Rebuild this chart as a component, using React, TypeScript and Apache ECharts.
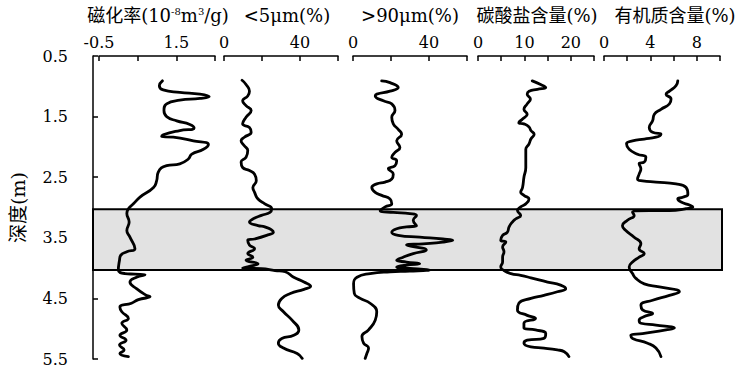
import React, { useEffect, useRef } from "react";
import * as echarts from "echarts";

// ---------- data (value, depth in m) ----------
const DEPTH_TICKS = [0.5, 1.5, 2.5, 3.5, 4.5, 5.5];
const HIGHLIGHT_DEPTH: [number, number] = [3.03, 4.03];

const magneticSusceptibility: [number, number][] = [
  [1.14, 0.91], [1.06, 0.99], [1.16, 1.06], [1.59, 1.1], [2.11, 1.13], [2.35, 1.17], [2.11, 1.2],
  [1.59, 1.23], [1.25, 1.29], [1.18, 1.4], [1.25, 1.5], [1.51, 1.57], [1.85, 1.63], [1.96, 1.69],
  [1.59, 1.73], [1.16, 1.8], [1.12, 1.83], [1.42, 1.84], [1.94, 1.9], [2.33, 1.96], [2.2, 2.04],
  [1.9, 2.12], [1.81, 2.2], [1.59, 2.28], [1.25, 2.31], [1.03, 2.42], [0.99, 2.56], [0.91, 2.67],
  [0.56, 2.83], [0.39, 2.94], [0.26, 3.02], [0.22, 3.1], [0.28, 3.24], [0.22, 3.38], [0.3, 3.49],
  [0.43, 3.68], [0.22, 3.73], [0.06, 3.79], [0.03, 3.87], [0.0, 4.03], [0.17, 4.09], [0.43, 4.1],
  [0.69, 4.11], [0.47, 4.15], [0.3, 4.23], [0.47, 4.34], [0.73, 4.45], [0.82, 4.47], [0.52, 4.52],
  [0.34, 4.58], [0.04, 4.64], [0.09, 4.72], [0.26, 4.83], [0.09, 4.91], [0.22, 5.02], [0.04, 5.11],
  [0.2, 5.19], [0.03, 5.27], [0.15, 5.35], [0.04, 5.41], [0.26, 5.46],
];

const fineFraction: [number, number][] = [
  [9.5, 0.9], [11.6, 0.97], [13.4, 1.08], [12.5, 1.16], [9.8, 1.24], [11.6, 1.32], [14.3, 1.4],
  [11.6, 1.51], [9.8, 1.62], [13.4, 1.68], [14.3, 1.76], [10.7, 1.84], [9.0, 1.9], [10.7, 1.98],
  [12.5, 2.06], [11.6, 2.17], [9.0, 2.25], [9.8, 2.34], [13.4, 2.39], [16.1, 2.45], [17.0, 2.56],
  [15.2, 2.67], [16.1, 2.75], [17.9, 2.86], [21.5, 2.94], [25.1, 3.02], [24.2, 3.08], [19.7, 3.13],
  [15.2, 3.19], [13.4, 3.24], [17.9, 3.3], [21.5, 3.32], [26.0, 3.41], [22.4, 3.46], [16.1, 3.52],
  [12.5, 3.54], [13.4, 3.62], [16.1, 3.68], [12.5, 3.76], [15.2, 3.82], [11.6, 3.87], [17.9, 3.93],
  [13.4, 3.97], [9.8, 4.0], [19.7, 4.01], [26.9, 4.04], [32.2, 4.06], [36.7, 4.15], [42.1, 4.23],
  [45.6, 4.3], [42.1, 4.35], [34.9, 4.42], [30.4, 4.5], [28.6, 4.61], [31.3, 4.72], [35.8, 4.86],
  [39.4, 5.02], [36.7, 5.11], [30.4, 5.16], [28.6, 5.24], [31.3, 5.32], [38.5, 5.41], [41.2, 5.49],
];

const coarseFraction: [number, number][] = [
  [15.1, 0.91], [19.5, 0.94], [23.8, 1.02], [19.5, 1.08], [12.5, 1.13], [11.7, 1.16], [16.0, 1.24],
  [20.4, 1.29], [22.1, 1.4], [20.4, 1.51], [21.2, 1.62], [23.8, 1.71], [25.6, 1.79], [23.0, 1.9],
  [24.7, 2.01], [22.1, 2.09], [20.4, 2.17], [23.0, 2.23], [22.1, 2.31], [18.6, 2.36], [21.2, 2.45],
  [20.4, 2.53], [16.9, 2.58], [12.5, 2.61], [9.9, 2.67], [11.7, 2.75], [15.1, 2.8], [19.5, 2.86],
  [20.4, 2.94], [16.9, 2.99], [14.3, 3.05], [21.2, 3.08], [29.9, 3.1], [33.4, 3.13], [31.7, 3.21],
  [33.4, 3.3], [28.2, 3.32], [23.0, 3.35], [20.4, 3.41], [23.8, 3.46], [35.1, 3.49], [47.3, 3.52],
  [52.5, 3.54], [47.3, 3.57], [36.9, 3.6], [28.2, 3.62], [38.6, 3.7], [31.7, 3.76], [26.4, 3.82],
  [23.0, 3.87], [28.2, 3.9], [35.1, 3.93], [28.2, 3.95], [23.0, 3.98], [31.7, 4.01], [40.4, 4.03],
  [29.9, 4.05], [19.5, 4.06], [9.0, 4.09], [2.1, 4.15], [0.3, 4.26], [0.7, 4.42], [3.8, 4.5],
  [9.0, 4.58], [12.5, 4.72], [11.7, 4.86], [8.2, 5.02], [4.7, 5.13], [5.6, 5.24], [8.2, 5.32],
  [7.3, 5.41], [6.4, 5.49],
];

const carbonate: [number, number][] = [
  [11.7, 0.91], [13.5, 0.97], [14.6, 1.02], [12.8, 1.05], [11.0, 1.08], [10.6, 1.13], [11.3, 1.21],
  [10.6, 1.29], [9.9, 1.38], [10.6, 1.46], [9.6, 1.54], [8.8, 1.6], [9.9, 1.62], [11.0, 1.67],
  [11.4, 1.73], [12.1, 1.79], [11.4, 1.87], [11.0, 1.95], [10.3, 2.04], [10.3, 2.17], [10.3, 2.34],
  [9.9, 2.5], [9.6, 2.67], [9.2, 2.75], [9.9, 2.8], [11.0, 2.86], [10.3, 2.94], [9.2, 2.99],
  [8.5, 3.05], [9.2, 3.13], [8.1, 3.19], [7.4, 3.24], [6.7, 3.32], [6.3, 3.41], [5.3, 3.46],
  [4.9, 3.54], [6.0, 3.57], [5.3, 3.65], [5.6, 3.73], [5.3, 3.82], [5.3, 3.9], [4.9, 3.98],
  [5.6, 4.04], [7.1, 4.09], [9.2, 4.12], [11.4, 4.16], [15.0, 4.23], [17.8, 4.28], [18.9, 4.34],
  [17.1, 4.39], [14.2, 4.45], [11.4, 4.5], [8.8, 4.58], [8.5, 4.69], [10.6, 4.78], [12.4, 4.83],
  [9.9, 4.91], [9.9, 4.99], [12.4, 5.02], [14.6, 5.08], [14.2, 5.16], [10.6, 5.19], [9.9, 5.24],
  [11.4, 5.3], [14.2, 5.32], [17.1, 5.35], [18.6, 5.38], [19.6, 5.46],
];

const organicMatter: [number, number][] = [
  [6.36, 0.91], [6.21, 0.99], [5.64, 1.08], [5.35, 1.13], [5.78, 1.21], [5.64, 1.29], [4.91, 1.38],
  [4.34, 1.46], [4.19, 1.57], [3.9, 1.68], [4.19, 1.76], [4.91, 1.79], [4.48, 1.84], [3.47, 1.87],
  [2.46, 1.9], [1.94, 1.95], [2.17, 2.04], [2.89, 2.12], [3.61, 2.17], [3.47, 2.25], [3.03, 2.28],
  [3.18, 2.36], [3.03, 2.45], [2.89, 2.53], [3.32, 2.56], [4.48, 2.58], [6.21, 2.61], [7.08, 2.67],
  [7.23, 2.78], [6.79, 2.83], [6.36, 2.86], [6.65, 2.91], [7.37, 2.96], [7.66, 2.99], [7.08, 3.02],
  [5.64, 3.05], [3.9, 3.05], [2.46, 3.08], [2.6, 3.13], [2.02, 3.21], [1.59, 3.3], [1.88, 3.38],
  [2.6, 3.49], [3.18, 3.6], [3.03, 3.68], [3.47, 3.76], [3.03, 3.82], [2.46, 3.9], [2.17, 3.98],
  [2.46, 4.09], [2.75, 4.17], [3.47, 4.26], [4.77, 4.31], [6.5, 4.39], [5.64, 4.45], [4.19, 4.53],
  [3.18, 4.61], [3.32, 4.69], [4.19, 4.75], [3.47, 4.8], [3.03, 4.86], [3.18, 4.91], [4.48, 4.94],
  [6.07, 4.99], [5.35, 5.02], [3.32, 5.08], [2.31, 5.11], [2.46, 5.16], [3.76, 5.24], [4.48, 5.32],
  [4.91, 5.46],
];

const magTicks = [-0.5, 0.5, 1.5, 2.5];
const magLabels = [-0.5, 1.5];
const grainTicks = [0, 20, 40, 60];
const grainLabels = [0, 40];
const carbTicks = [0, 5, 10, 15, 20, 25];
const carbLabels = [0, 10, 20];
const orgTicks = [0, 2, 4, 6, 8, 10];
const orgLabels = [0, 4, 8];

// ---------- layout ----------
const FONT = "'DejaVu Serif', 'Liberation Serif', 'Noto Sans CJK SC', serif";
const TOP = 56;
const HEIGHT = 303;

const panels = [
  { left: 99, width: 116, min: -0.5, max: 2.5, ticks: magTicks, labels: magLabels, data: magneticSusceptibility, titleX: 158 },
  { left: 224, width: 114, min: 0, max: 60, ticks: grainTicks, labels: grainLabels, data: fineFraction, titleX: 287 },
  { left: 353, width: 114, min: 0, max: 60, ticks: grainTicks, labels: grainLabels, data: coarseFraction, titleX: 410 },
  { left: 478, width: 116, min: 0, max: 25, ticks: carbTicks, labels: carbLabels, data: carbonate, titleX: 537 },
  { left: 604, width: 116, min: 0, max: 10, ticks: orgTicks, labels: orgLabels, data: organicMatter, titleX: 675 },
];

const titles = [
  "{t|磁化率(10}{s|-8}{t|m}{s|3}{t|/g)}",
  "{t|<5μm(%)}",
  "{t|>90μm(%)}",
  "{t|碳酸盐含量(%)}",
  "{t|有机质含量(%)}",
];

export default function App() {
  const ref = useRef<HTMLDivElement>(null);

  useEffect(() => {
    if (!ref.current) return;
    const chart = echarts.init(ref.current, undefined, { renderer: "svg" });

    const axisLineStyle = { color: "#000", width: 1.5 };

    const grids: any[] = [{ left: 93, right: 20, top: TOP, height: HEIGHT }];
    const xAxes: any[] = [{ gridIndex: 0, type: "value", min: 0, max: 1, show: false }];
    const yAxes: any[] = [
      {
        gridIndex: 0,
        type: "value",
        inverse: true,
        min: 0.5,
        max: 5.5,
        offset: 13,
        position: "left",
        axisLine: { show: true, lineStyle: axisLineStyle },
        axisTick: { show: true, inside: true, length: 5, lineStyle: axisLineStyle, customValues: DEPTH_TICKS },
        axisLabel: {
          customValues: DEPTH_TICKS,
          formatter: (v: number) => v.toFixed(1),
          color: "#000",
          fontFamily: FONT,
          fontSize: 16,
          margin: 12,
        },
        splitLine: { show: false },
        name: "深度(m)",
        nameLocation: "middle",
        nameRotate: 90,
        nameGap: 53,
        nameTextStyle: { color: "#000", fontFamily: FONT, fontSize: 19 },
      },
    ];

    const series: any[] = [
      {
        type: "custom",
        xAxisIndex: 0,
        yAxisIndex: 0,
        z: 1,
        silent: true,
        clip: false,
        data: [HIGHLIGHT_DEPTH],
        renderItem: (params: any, api: any) => {
          const p0 = api.coord([0, api.value(0)]);
          const p1 = api.coord([1, api.value(1)]);
          return {
            type: "rect",
            shape: { x: p0[0], y: p0[1], width: p1[0] - p0[0], height: p1[1] - p0[1] },
            style: { fill: "#e2e2e2", stroke: "#000", lineWidth: 2 },
          };
        },
      },
    ];

    panels.forEach((p, i) => {
      const idx = i + 1;
      grids.push({ left: p.left, width: p.width, top: TOP, height: HEIGHT });
      xAxes.push({
        gridIndex: idx,
        type: "value",
        position: "top",
        min: p.min,
        max: p.max,
        axisLine: { show: true, lineStyle: axisLineStyle },
        axisTick: { show: true, inside: true, length: 5, lineStyle: axisLineStyle, customValues: p.ticks },
        axisLabel: {
          customValues: p.labels,
          color: "#000",
          fontFamily: FONT,
          fontSize: 16,
          margin: 6,
        },
        splitLine: { show: false },
      });
      yAxes.push({ gridIndex: idx, type: "value", inverse: true, min: 0.5, max: 5.5, show: false });
      series.push({
        type: "line",
        xAxisIndex: idx,
        yAxisIndex: idx,
        data: p.data,
        smooth: 0.5,
        showSymbol: false,
        symbol: "none",
        z: 3,
        lineStyle: { color: "#000", width: 2.8, join: "round", cap: "round" },
      });
    });

    const graphic: any[] = panels.map((p, i) => ({
      type: "text",
      x: p.titleX,
      y: 15,
      style: {
        text: titles[i],
        align: "center",
        verticalAlign: "middle",
        fill: "#000",
        rich: {
          t: { fontFamily: FONT, fontSize: 18, fill: "#000" },
          s: { fontFamily: FONT, fontSize: 10, fill: "#000", verticalAlign: "top", padding: [0, 0, 8, 0] },
        },
      },
    }));

    chart.setOption({
      animation: false,
      backgroundColor: "#fff",
      grid: grids,
      xAxis: xAxes,
      yAxis: yAxes,
      series,
      graphic,
    });

    return () => chart.dispose();
  }, []);

  return (
    <div
      ref={ref}
      style={{ position: "fixed", left: 0, top: 0, width: 742, height: 372, background: "#fff" }}
    />
  );
}
